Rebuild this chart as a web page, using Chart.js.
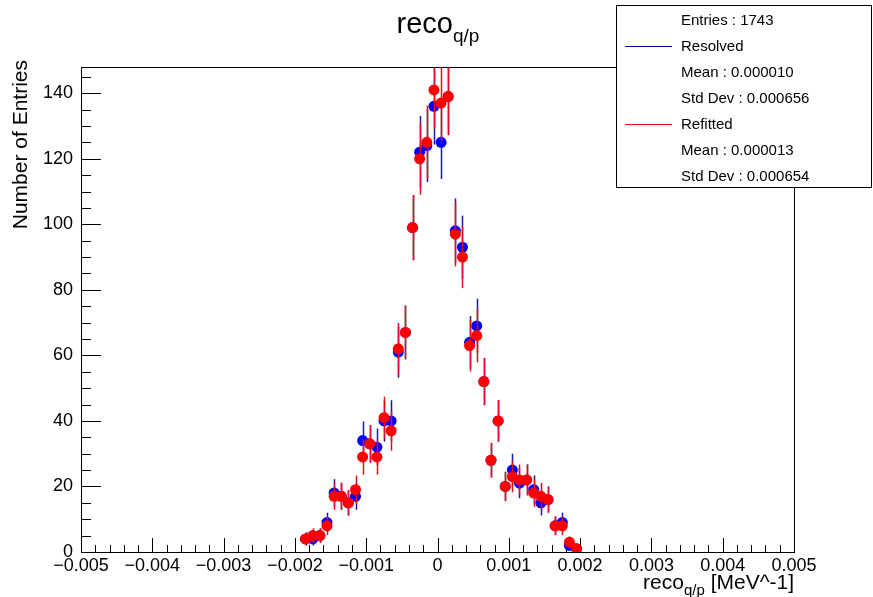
<!DOCTYPE html>
<html>
<head>
<meta charset="utf-8">
<title>reco q/p</title>
<script src="https://cdn.jsdelivr.net/npm/chart.js@4.4.0/dist/chart.umd.min.js"></script>
<style>
  html, body { margin: 0; padding: 0; background: #fff; }
  #c { display: block; }
</style>
</head>
<body>
<canvas id="c" width="873" height="597"></canvas>
<script>
// bin centres (bin width 0.0001 MeV^-1)
const binCenters = [
  -0.00185, -0.00175, -0.00165, -0.00155, -0.00145, -0.00135, -0.00125, -0.00115,
  -0.00105, -0.00095, -0.00085, -0.00075, -0.00065, -0.00055, -0.00045, -0.00035,
  -0.00025, -0.00015, -0.00005, 0.00005, 0.00015, 0.00025, 0.00035, 0.00045,
  0.00055, 0.00065, 0.00075, 0.00085, 0.00095, 0.00105, 0.00115, 0.00125,
  0.00135, 0.00145, 0.00155, 0.00165, 0.00175, 0.00185, 0.00195
];
const resolved = [
  4, 4, 5, 9, 18, 17, 15, 17, 34, 33, 32, 40, 40, 61, 67, 99,
  122, 124, 136, 125, 139, 98, 93, 64, 69, 52, 28, 40, 20, 25, 21, 22,
  19, 15, 16, 8, 9, 2, 1
];
const refitted = [
  4, 5, 5, 8, 17, 17, 15, 19, 29, 33, 29, 41, 37, 62, 67, 99,
  120, 125, 141, 137, 139, 97, 90, 63, 66, 52, 28, 40, 20, 23, 22, 22,
  18, 17, 16, 8, 8, 3, 1
];
const xTicks = [-0.005, -0.004, -0.003, -0.002, -0.001, 0, 0.001, 0.002, 0.003, 0.004, 0.005];
const yTicks = [0, 20, 40, 60, 80, 100, 120, 140];
const entries = 1743;
const resolvedStats = ['0.000010', '0.000656'];
const refittedStats = ['0.000013', '0.000654'];

const FONT = '"Liberation Sans", Arial, Helvetica, sans-serif';

function points(values) {
  return binCenters.map((x, i) => ({ x: x, y: values[i] }));
}

// vertical sqrt(N) error bars, drawn just under each dataset's markers
const errorBars = {
  id: 'errorBars',
  beforeDatasetDraw(chart, args) {
    const ds = chart.data.datasets[args.index];
    const { ctx, chartArea: a, scales: { x, y } } = chart;
    ctx.save();
    ctx.beginPath();
    ctx.rect(a.left, a.top, a.right - a.left, a.bottom - a.top);
    ctx.clip();
    ctx.strokeStyle = ds.barColor;
    ctx.lineWidth = 1.5;
    ds.data.forEach(p => {
      const err = Math.sqrt(p.y);
      const px = Math.round(x.getPixelForValue(p.x)) + 0.5;
      ctx.beginPath();
      ctx.moveTo(px, y.getPixelForValue(p.y - err));
      ctx.lineTo(px, y.getPixelForValue(p.y + err));
      ctx.stroke();
    });
    ctx.restore();
  }
};

// frame and inward ticks
const frame = {
  id: 'frame',
  beforeDatasetsDraw(chart) {
    const { ctx, chartArea: a, scales: { x, y } } = chart;
    ctx.save();
    ctx.strokeStyle = '#000';
    ctx.lineWidth = 1;
    ctx.beginPath();
    // y ticks: major every 20, minor every 5
    for (let v = 0; v <= y.max; v += 5) {
      const py = Math.round(y.getPixelForValue(v)) + 0.5;
      const len = v % 20 === 0 ? 20 : 10;
      ctx.moveTo(a.left, py);
      ctx.lineTo(a.left + len, py);
    }
    // x ticks: major every 0.001, minor every 0.0002
    for (let k = -25; k <= 25; k++) {
      const px = Math.round(x.getPixelForValue(k * 0.0002)) + 0.5;
      const len = k % 5 === 0 ? 14 : 7;
      ctx.moveTo(px, a.bottom);
      ctx.lineTo(px, a.bottom - len);
    }
    ctx.stroke();
    ctx.strokeRect(a.left + 0.5, a.top + 0.5, a.right - a.left, a.bottom - a.top);
    ctx.restore();
  }
};

function drawSubscripted(ctx, parts, x, y, align) {
  // parts: [text, size, dy]
  let total = 0;
  parts.forEach(p => { ctx.font = p[1] + 'px ' + FONT; total += ctx.measureText(p[0]).width; });
  let cx = align === 'right' ? x - total : align === 'center' ? x - total / 2 : x;
  parts.forEach(p => {
    ctx.font = p[1] + 'px ' + FONT;
    ctx.fillText(p[0], cx, y + p[2]);
    cx += ctx.measureText(p[0]).width;
  });
}

// title, axis titles and the statistics box
const decorations = {
  id: 'decorations',
  afterDraw(chart) {
    const { ctx, chartArea: a } = chart;
    ctx.save();
    ctx.fillStyle = '#000';
    ctx.textBaseline = 'alphabetic';
    ctx.textAlign = 'left';

    drawSubscripted(ctx, [['reco', 29, 0], ['q/p', 19, 9]], 438, 33, 'center');
    drawSubscripted(ctx, [['reco', 21, 0], ['q/p', 15, 6], [' [MeV^-1]', 21, 0]], a.right, 589, 'right');

    ctx.translate(27, a.top - 7);
    ctx.rotate(-Math.PI / 2);
    ctx.textAlign = 'right';
    ctx.font = '21px ' + FONT;
    ctx.fillText('Number of Entries', 0, 0);
    ctx.setTransform(1, 0, 0, 1, 0, 0);

    // statistics box
    const bx = 616, by = 5, bw = 256, bh = 182;
    ctx.fillStyle = '#fff';
    ctx.fillRect(bx, by, bw, bh);
    ctx.strokeStyle = '#000';
    ctx.lineWidth = 1;
    ctx.strokeRect(bx + 0.5, by + 0.5, bw - 1, bh);

    const rows = [
      ['Entries : ' + entries, null],
      ['Resolved', '#000090'],
      ['Mean : ' + resolvedStats[0], null],
      ['Std Dev : ' + resolvedStats[1], null],
      ['Refitted', '#ff0000'],
      ['Mean : ' + refittedStats[0], null],
      ['Std Dev : ' + refittedStats[1], null]
    ];
    ctx.font = '15px ' + FONT;
    ctx.textAlign = 'left';
    ctx.textBaseline = 'middle';
    rows.forEach((r, i) => {
      const ry = by + 14.5 + i * 26.1;
      if (r[1]) {
        ctx.strokeStyle = r[1];
        ctx.beginPath();
        ctx.moveTo(625, Math.round(ry) + 0.5);
        ctx.lineTo(672, Math.round(ry) + 0.5);
        ctx.stroke();
      }
      ctx.fillStyle = '#000';
      ctx.fillText(r[0], 681, ry + 1);
    });
    ctx.restore();
  }
};

new Chart(document.getElementById('c'), {
  type: 'scatter',
  data: {
    datasets: [
      {
        label: 'Resolved',
        data: points(resolved),
        backgroundColor: '#0000ff',
        borderWidth: 0,
        pointRadius: 5.5,
        barColor: '#1a1aa8',
        order: 1
      },
      {
        label: 'Refitted',
        data: points(refitted),
        backgroundColor: '#ff0000',
        borderWidth: 0,
        pointRadius: 5.5,
        barColor: '#e0101a',
        order: 0
      }
    ]
  },
  options: {
    responsive: false,
    animation: false,
    layout: { padding: { top: 67, left: 0, right: 79, bottom: 0 } },
    plugins: {
      legend: { display: false },
      title: { display: false },
      tooltip: { enabled: false }
    },
    scales: {
      x: {
        type: 'linear',
        min: -0.005,
        max: 0.005,
        grid: { display: false, drawTicks: false },
        border: { display: false },
        afterBuildTicks: s => { s.ticks = xTicks.map(v => ({ value: v })); },
        afterFit: s => { s.height = 45; },
        ticks: {
          autoSkip: false,
          maxRotation: 0,
          padding: 3,
          color: '#000',
          font: { family: FONT, size: 18 },
          callback: v => v === 0 ? '0' : (v < 0 ? '\u2212' : '') + Math.abs(v).toFixed(3)
        }
      },
      y: {
        min: 0,
        max: 148,
        grid: { display: false, drawTicks: false },
        border: { display: false },
        afterBuildTicks: s => { s.ticks = yTicks.map(v => ({ value: v })); },
        afterFit: s => { s.width = 81; },
        ticks: {
          padding: 8,
          color: '#000',
          font: { family: FONT, size: 18 }
        }
      }
    }
  },
  plugins: [errorBars, frame, decorations]
});
</script>
</body>
</html>
